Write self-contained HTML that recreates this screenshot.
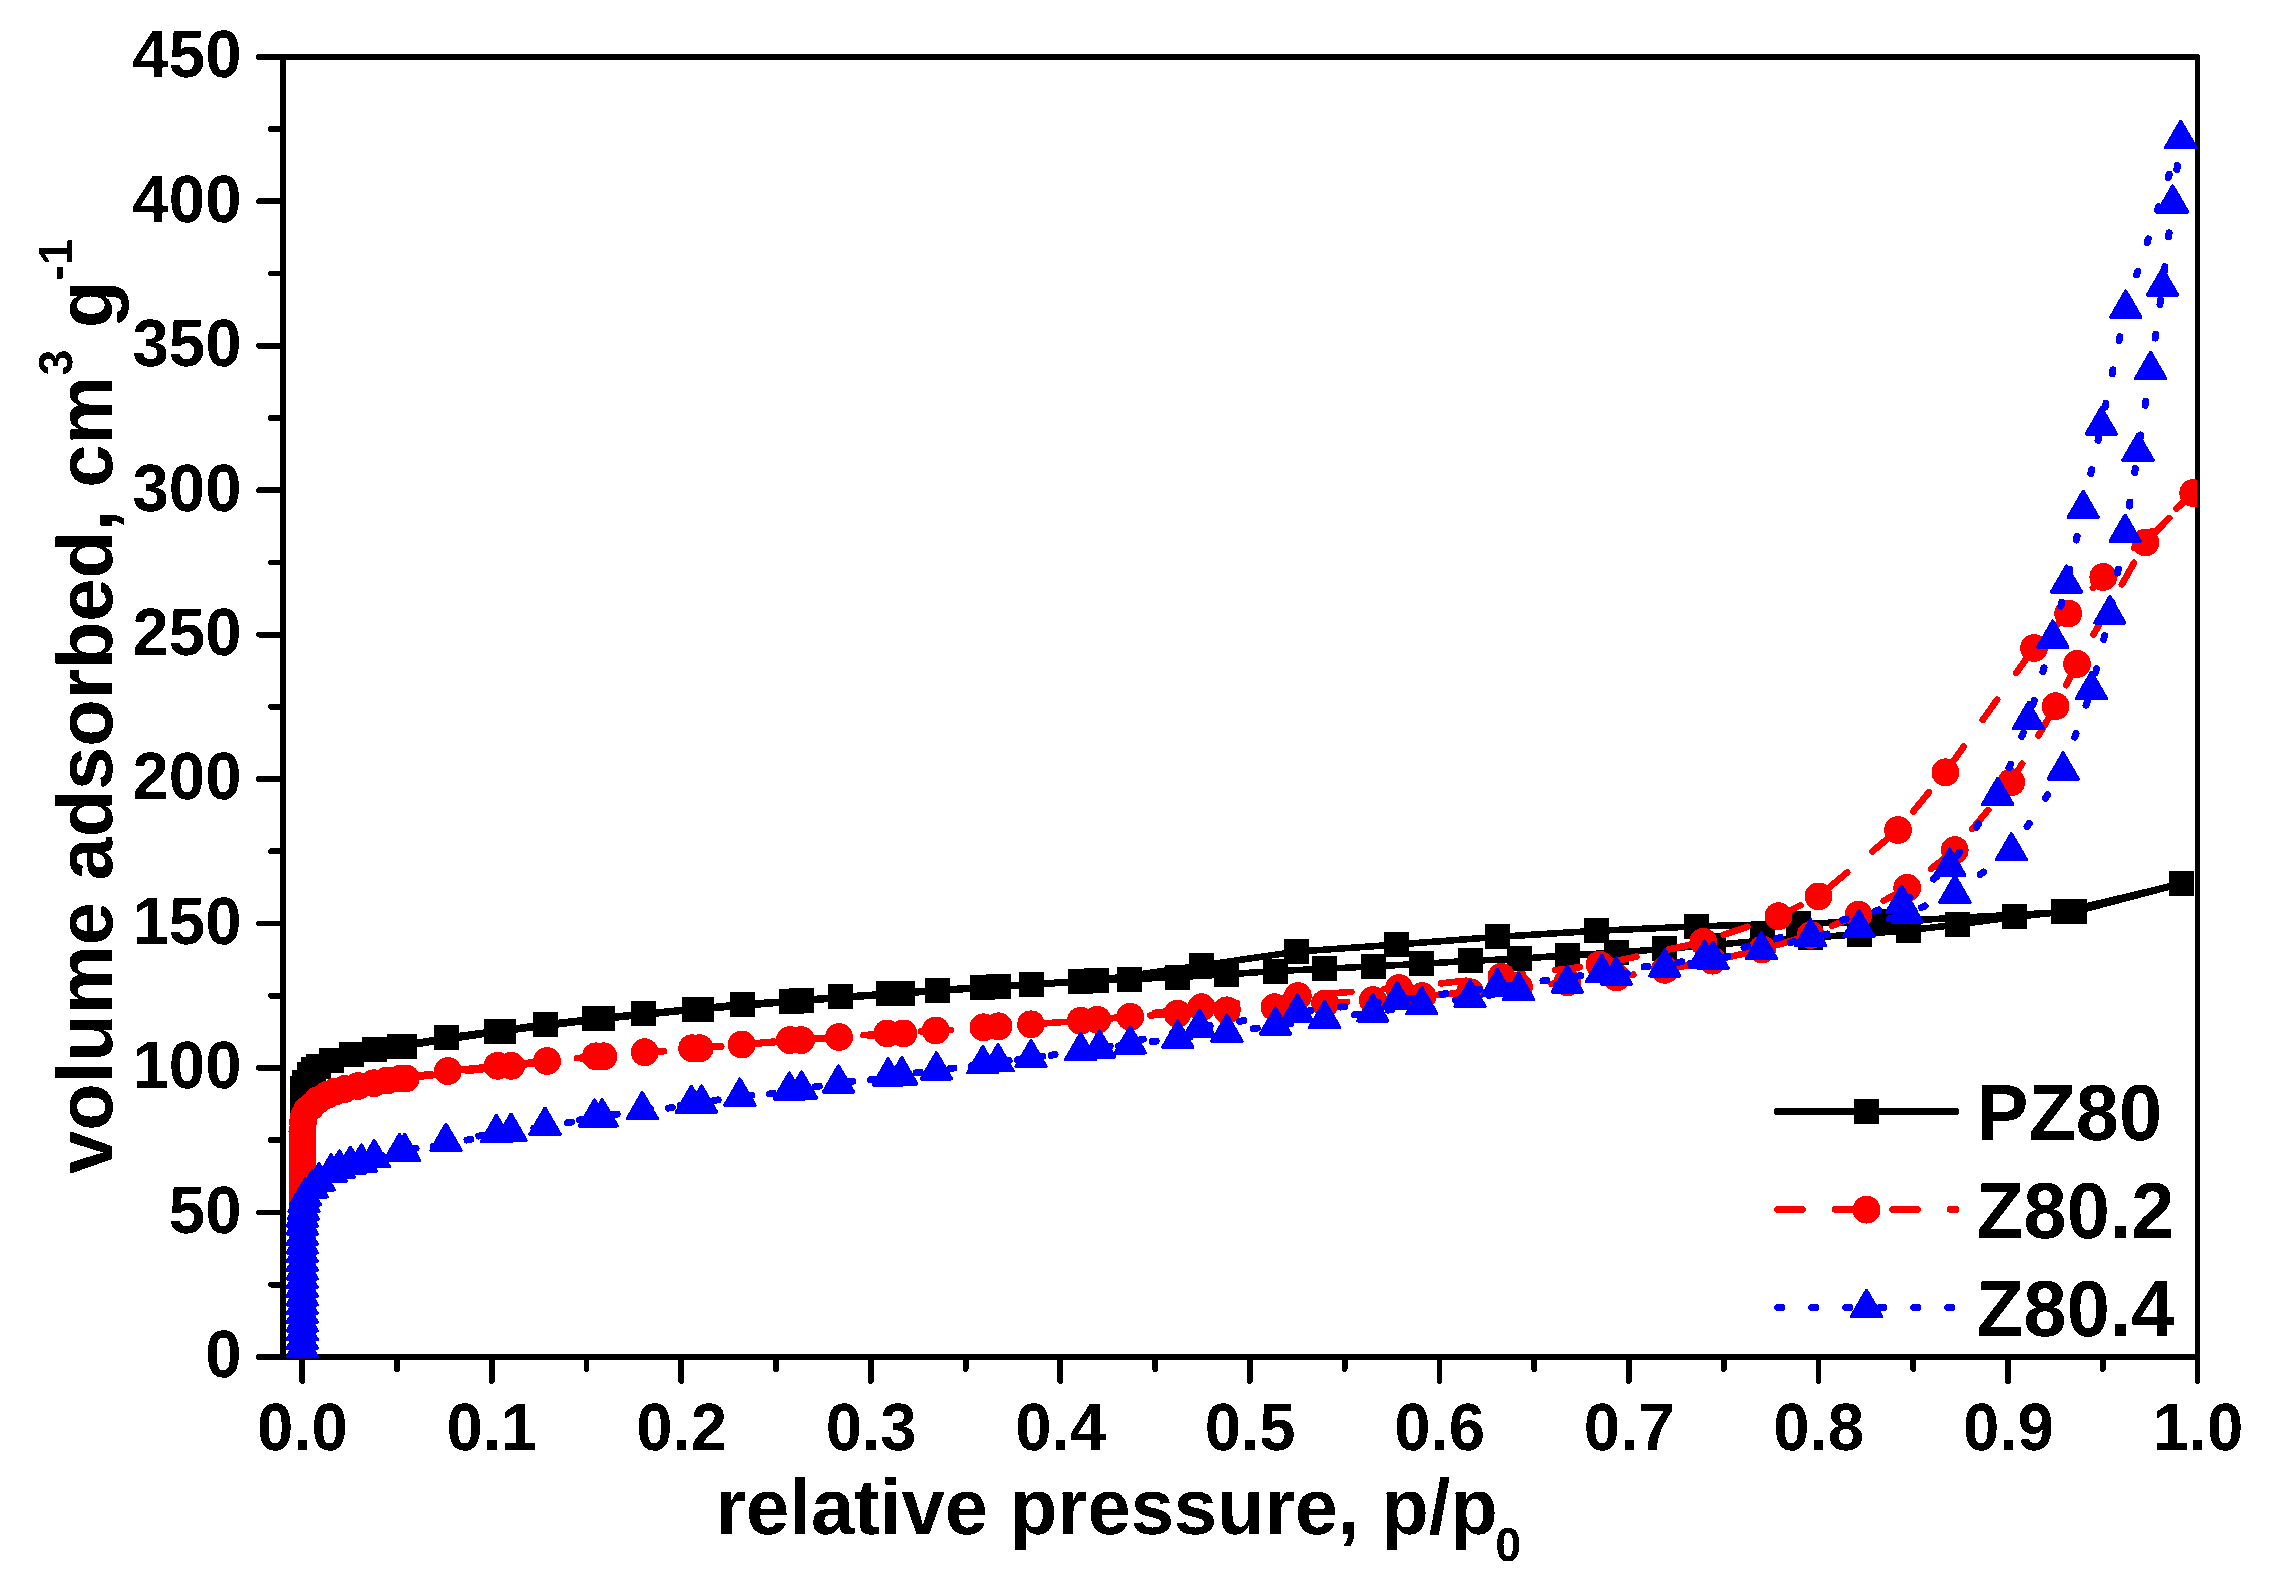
<!DOCTYPE html>
<html><head><meta charset="utf-8"><title>N2 adsorption isotherms</title>
<style>html,body{margin:0;padding:0;background:#fff}svg{display:block}</style></head>
<body>
<svg width="2270" height="1586" viewBox="0 0 2270 1586" shape-rendering="crispEdges" text-rendering="geometricPrecision">
<defs><filter id="bw" filterUnits="userSpaceOnUse" x="0" y="0" width="2270" height="1586" color-interpolation-filters="sRGB"><feComponentTransfer><feFuncA type="discrete" tableValues="0 1"/></feComponentTransfer></filter><clipPath id="fr"><rect x="283" y="57" width="1914.5" height="1301.2"/></clipPath></defs>
<rect width="2270" height="1586" fill="#fff"/>
<g stroke="#000" stroke-width="5.8" stroke-linecap="round" fill="none">
<path d="M283,57V1357 M2197.5,57V1357"/>
<path d="M259,57H2197.5 M259,1357H2197.5"/>
<path d="M271,1284.6H283M259,1212.4H283M271,1140.1H283M259,1067.9H283M271,995.7H283M259,923.5H283M271,851.3H283M259,779.1H283M271,706.8H283M259,634.6H283M271,562.4H283M259,490.2H283M271,418H283M259,345.8H283M271,273.5H283M259,201.3H283M271,129.1H283M302.2,1357V1381M397,1357V1369M491.7,1357V1381M586.5,1357V1369M681.3,1357V1381M776,1357V1369M870.8,1357V1381M965.6,1357V1369M1060.3,1357V1381M1155.1,1357V1369M1249.8,1357V1381M1344.6,1357V1369M1439.4,1357V1381M1534.1,1357V1369M1628.9,1357V1381M1723.7,1357V1369M1818.4,1357V1381M1913.2,1357V1369M2008,1357V1381M2102.7,1357V1369M2197.5,1357V1381"/>
</g>
<g clip-path="url(#fr)">
<polyline points="302.2,1348.3 302.2,1339.6 302.2,1331 302.2,1322.3 302.2,1313.6 302.2,1304.9 302.2,1296.3 302.2,1287.6 302.2,1278.9 302.2,1270.3 302.2,1261.6 302.2,1252.9 302.2,1244.3 302.2,1235.6 302.2,1226.9 302.2,1218.2 302.2,1209.6 302.2,1200.9 302.2,1192.2 302.2,1183.6 302.2,1174.9 302.2,1166.2 302.2,1157.6 302.2,1148.9 302.2,1140.2 302.2,1131.5 302.2,1122.9 302.2,1114.2 302.2,1105.5 302.2,1096.9 302.8,1088 304.7,1082 309.8,1074.9 313.8,1069.9 318.9,1066.4 331.1,1060.7 351.3,1054.7 374.6,1049.6 399,1046.2 446.2,1037.7 496.4,1031 545.4,1024.3 594.7,1018.8 643.7,1013.7 694,1009 742.9,1004.2 791.7,1001 840,996.9 888.6,993.7 937.8,990 982.8,987.2 1031,984.4 1080.7,981 1129.3,979.3 1177.8,977 1226.9,974.4 1275.5,971 1324.1,968.9 1373.4,966.3 1421.4,963.9 1470.4,960.8 1519.7,958.8 1567.9,955.2 1616.6,952.8 1664.8,948.7 1713.5,945 1762.1,940.6 1810.7,937.6 1859.4,934.2 1908.4,930.3 1957.2,924.6 2014.5,916.9 2063.9,911.7 2181.7,883.5 2074.5,911.7 1884.5,921.7 1798.5,923.4 1696.7,926.4 1596.3,930.8 1497,936.9 1396.1,944.6 1296.4,951.7 1201.5,965.5 1096.5,980.5 998.6,986.8 902.4,993.3 801.3,1000.9 701.5,1009 602.6,1018.8 503.3,1031 404,1046" fill="none" stroke="#000" stroke-width="6.6" stroke-linejoin="round"/>
<g fill="#000"><rect x="289.7" y="1335.8" width="25" height="25"/><rect x="289.7" y="1327.1" width="25" height="25"/><rect x="289.7" y="1318.5" width="25" height="25"/><rect x="289.7" y="1309.8" width="25" height="25"/><rect x="289.7" y="1301.1" width="25" height="25"/><rect x="289.7" y="1292.4" width="25" height="25"/><rect x="289.7" y="1283.8" width="25" height="25"/><rect x="289.7" y="1275.1" width="25" height="25"/><rect x="289.7" y="1266.4" width="25" height="25"/><rect x="289.7" y="1257.8" width="25" height="25"/><rect x="289.7" y="1249.1" width="25" height="25"/><rect x="289.7" y="1240.4" width="25" height="25"/><rect x="289.7" y="1231.8" width="25" height="25"/><rect x="289.7" y="1223.1" width="25" height="25"/><rect x="289.7" y="1214.4" width="25" height="25"/><rect x="289.7" y="1205.7" width="25" height="25"/><rect x="289.7" y="1197.1" width="25" height="25"/><rect x="289.7" y="1188.4" width="25" height="25"/><rect x="289.7" y="1179.7" width="25" height="25"/><rect x="289.7" y="1171.1" width="25" height="25"/><rect x="289.7" y="1162.4" width="25" height="25"/><rect x="289.7" y="1153.7" width="25" height="25"/><rect x="289.7" y="1145.1" width="25" height="25"/><rect x="289.7" y="1136.4" width="25" height="25"/><rect x="289.7" y="1127.7" width="25" height="25"/><rect x="289.7" y="1119" width="25" height="25"/><rect x="289.7" y="1110.4" width="25" height="25"/><rect x="289.7" y="1101.7" width="25" height="25"/><rect x="289.7" y="1093" width="25" height="25"/><rect x="289.7" y="1084.4" width="25" height="25"/><rect x="290.3" y="1075.5" width="25" height="25"/><rect x="292.2" y="1069.5" width="25" height="25"/><rect x="297.3" y="1062.4" width="25" height="25"/><rect x="301.3" y="1057.4" width="25" height="25"/><rect x="306.4" y="1053.9" width="25" height="25"/><rect x="318.6" y="1048.2" width="25" height="25"/><rect x="338.8" y="1042.2" width="25" height="25"/><rect x="362.1" y="1037.1" width="25" height="25"/><rect x="386.5" y="1033.7" width="25" height="25"/><rect x="433.7" y="1025.2" width="25" height="25"/><rect x="483.9" y="1018.5" width="25" height="25"/><rect x="532.9" y="1011.8" width="25" height="25"/><rect x="582.2" y="1006.3" width="25" height="25"/><rect x="631.2" y="1001.2" width="25" height="25"/><rect x="681.5" y="996.5" width="25" height="25"/><rect x="730.4" y="991.7" width="25" height="25"/><rect x="779.2" y="988.5" width="25" height="25"/><rect x="827.5" y="984.4" width="25" height="25"/><rect x="876.1" y="981.2" width="25" height="25"/><rect x="925.3" y="977.5" width="25" height="25"/><rect x="970.3" y="974.7" width="25" height="25"/><rect x="1018.5" y="971.9" width="25" height="25"/><rect x="1068.2" y="968.5" width="25" height="25"/><rect x="1116.8" y="966.8" width="25" height="25"/><rect x="1165.3" y="964.5" width="25" height="25"/><rect x="1214.4" y="961.9" width="25" height="25"/><rect x="1263" y="958.5" width="25" height="25"/><rect x="1311.6" y="956.4" width="25" height="25"/><rect x="1360.9" y="953.8" width="25" height="25"/><rect x="1408.9" y="951.4" width="25" height="25"/><rect x="1457.9" y="948.3" width="25" height="25"/><rect x="1507.2" y="946.3" width="25" height="25"/><rect x="1555.4" y="942.7" width="25" height="25"/><rect x="1604.1" y="940.3" width="25" height="25"/><rect x="1652.3" y="936.2" width="25" height="25"/><rect x="1701" y="932.5" width="25" height="25"/><rect x="1749.6" y="928.1" width="25" height="25"/><rect x="1798.2" y="925.1" width="25" height="25"/><rect x="1846.9" y="921.7" width="25" height="25"/><rect x="1895.9" y="917.8" width="25" height="25"/><rect x="1944.7" y="912.1" width="25" height="25"/><rect x="2002" y="904.4" width="25" height="25"/><rect x="2051.4" y="899.2" width="25" height="25"/><rect x="2169.2" y="871" width="25" height="25"/><rect x="2062" y="899.2" width="25" height="25"/><rect x="1872" y="909.2" width="25" height="25"/><rect x="1786" y="910.9" width="25" height="25"/><rect x="1684.2" y="913.9" width="25" height="25"/><rect x="1583.8" y="918.3" width="25" height="25"/><rect x="1484.5" y="924.4" width="25" height="25"/><rect x="1383.6" y="932.1" width="25" height="25"/><rect x="1283.9" y="939.2" width="25" height="25"/><rect x="1189" y="953" width="25" height="25"/><rect x="1084" y="968" width="25" height="25"/><rect x="986.1" y="974.3" width="25" height="25"/><rect x="889.9" y="980.8" width="25" height="25"/><rect x="788.8" y="988.4" width="25" height="25"/><rect x="689" y="996.5" width="25" height="25"/><rect x="590.1" y="1006.3" width="25" height="25"/><rect x="490.8" y="1018.5" width="25" height="25"/><rect x="391.5" y="1033.5" width="25" height="25"/></g>
<polyline points="302.4,1348.3 302.4,1339.6 302.4,1331 302.4,1322.3 302.4,1313.6 302.4,1304.9 302.4,1296.3 302.4,1287.6 302.4,1278.9 302.4,1270.3 302.4,1261.6 302.4,1252.9 302.4,1244.3 302.4,1235.6 302.4,1226.9 302.4,1218.2 302.4,1209.6 302.4,1200.9 302.4,1192.2 302.4,1183.6 302.4,1174.9 302.4,1166.2 302.4,1157.6 302.4,1148.9 302.4,1140.2 302.4,1131.5 303,1122 304,1116 307,1110 311,1106.7 318,1100 326.8,1095 335,1091.5 344.8,1088.9 358,1086 373.9,1083.2 387,1080.5 400.4,1078.6 447.8,1071.1 497.6,1065.8 547.1,1061 595.9,1056.3 644.7,1052.2 692.2,1048.2 741.7,1044.5 789.9,1040.1 839.1,1037 887.2,1033.4 935.8,1030.4 983.4,1027.3 1031,1024.3 1080.7,1020.8 1130.3,1016.8 1177.5,1013.6 1226.9,1010.3 1274.5,1007.2 1325.1,1003.4 1372.8,1000.1 1422.4,996.1 1470,992.2 1519,987.2 1567.3,982.3 1616.6,977.3 1664.8,969.8 1712.5,960.7 1762.1,949.5 1810.7,935 1858.5,914.6 1907.2,887.8 1954.7,850.1 2011.3,782.2 2055.6,706.2 2077,663.9 2145.5,542.5 2193.2,493.1 2103.3,577 2068.2,613.5 2034,648 1945.4,772.3 1898,830 1818.5,896.4 1778.4,916.2 1703.3,941.8 1599.7,964.7 1501.4,976.8 1399.1,988 1297.8,996.1 1201.5,1007.2 1097.3,1019.8 998.6,1026.3 903.4,1033.4 801.1,1040.1 699.7,1048.2 603.4,1056.3 511.2,1065.8 405.8,1078.4" fill="none" stroke="#f00" stroke-width="6.6" stroke-linecap="round" stroke-linejoin="round" stroke-dasharray="24.8 32.7"/>
<g fill="#f00"><circle cx="302.4" cy="1348.3" r="13.9"/><circle cx="302.4" cy="1339.6" r="13.9"/><circle cx="302.4" cy="1331" r="13.9"/><circle cx="302.4" cy="1322.3" r="13.9"/><circle cx="302.4" cy="1313.6" r="13.9"/><circle cx="302.4" cy="1304.9" r="13.9"/><circle cx="302.4" cy="1296.3" r="13.9"/><circle cx="302.4" cy="1287.6" r="13.9"/><circle cx="302.4" cy="1278.9" r="13.9"/><circle cx="302.4" cy="1270.3" r="13.9"/><circle cx="302.4" cy="1261.6" r="13.9"/><circle cx="302.4" cy="1252.9" r="13.9"/><circle cx="302.4" cy="1244.3" r="13.9"/><circle cx="302.4" cy="1235.6" r="13.9"/><circle cx="302.4" cy="1226.9" r="13.9"/><circle cx="302.4" cy="1218.2" r="13.9"/><circle cx="302.4" cy="1209.6" r="13.9"/><circle cx="302.4" cy="1200.9" r="13.9"/><circle cx="302.4" cy="1192.2" r="13.9"/><circle cx="302.4" cy="1183.6" r="13.9"/><circle cx="302.4" cy="1174.9" r="13.9"/><circle cx="302.4" cy="1166.2" r="13.9"/><circle cx="302.4" cy="1157.6" r="13.9"/><circle cx="302.4" cy="1148.9" r="13.9"/><circle cx="302.4" cy="1140.2" r="13.9"/><circle cx="302.4" cy="1131.5" r="13.9"/><circle cx="303" cy="1122" r="13.9"/><circle cx="304" cy="1116" r="13.9"/><circle cx="307" cy="1110" r="13.9"/><circle cx="311" cy="1106.7" r="13.9"/><circle cx="318" cy="1100" r="13.9"/><circle cx="326.8" cy="1095" r="13.9"/><circle cx="335" cy="1091.5" r="13.9"/><circle cx="344.8" cy="1088.9" r="13.9"/><circle cx="358" cy="1086" r="13.9"/><circle cx="373.9" cy="1083.2" r="13.9"/><circle cx="387" cy="1080.5" r="13.9"/><circle cx="400.4" cy="1078.6" r="13.9"/><circle cx="447.8" cy="1071.1" r="13.9"/><circle cx="497.6" cy="1065.8" r="13.9"/><circle cx="547.1" cy="1061" r="13.9"/><circle cx="595.9" cy="1056.3" r="13.9"/><circle cx="644.7" cy="1052.2" r="13.9"/><circle cx="692.2" cy="1048.2" r="13.9"/><circle cx="741.7" cy="1044.5" r="13.9"/><circle cx="789.9" cy="1040.1" r="13.9"/><circle cx="839.1" cy="1037" r="13.9"/><circle cx="887.2" cy="1033.4" r="13.9"/><circle cx="935.8" cy="1030.4" r="13.9"/><circle cx="983.4" cy="1027.3" r="13.9"/><circle cx="1031" cy="1024.3" r="13.9"/><circle cx="1080.7" cy="1020.8" r="13.9"/><circle cx="1130.3" cy="1016.8" r="13.9"/><circle cx="1177.5" cy="1013.6" r="13.9"/><circle cx="1226.9" cy="1010.3" r="13.9"/><circle cx="1274.5" cy="1007.2" r="13.9"/><circle cx="1325.1" cy="1003.4" r="13.9"/><circle cx="1372.8" cy="1000.1" r="13.9"/><circle cx="1422.4" cy="996.1" r="13.9"/><circle cx="1470" cy="992.2" r="13.9"/><circle cx="1519" cy="987.2" r="13.9"/><circle cx="1567.3" cy="982.3" r="13.9"/><circle cx="1616.6" cy="977.3" r="13.9"/><circle cx="1664.8" cy="969.8" r="13.9"/><circle cx="1712.5" cy="960.7" r="13.9"/><circle cx="1762.1" cy="949.5" r="13.9"/><circle cx="1810.7" cy="935" r="13.9"/><circle cx="1858.5" cy="914.6" r="13.9"/><circle cx="1907.2" cy="887.8" r="13.9"/><circle cx="1954.7" cy="850.1" r="13.9"/><circle cx="2011.3" cy="782.2" r="13.9"/><circle cx="2055.6" cy="706.2" r="13.9"/><circle cx="2077" cy="663.9" r="13.9"/><circle cx="2145.5" cy="542.5" r="13.9"/><circle cx="2193.2" cy="493.1" r="13.9"/><circle cx="2103.3" cy="577" r="13.9"/><circle cx="2068.2" cy="613.5" r="13.9"/><circle cx="2034" cy="648" r="13.9"/><circle cx="1945.4" cy="772.3" r="13.9"/><circle cx="1898" cy="830" r="13.9"/><circle cx="1818.5" cy="896.4" r="13.9"/><circle cx="1778.4" cy="916.2" r="13.9"/><circle cx="1703.3" cy="941.8" r="13.9"/><circle cx="1599.7" cy="964.7" r="13.9"/><circle cx="1501.4" cy="976.8" r="13.9"/><circle cx="1399.1" cy="988" r="13.9"/><circle cx="1297.8" cy="996.1" r="13.9"/><circle cx="1201.5" cy="1007.2" r="13.9"/><circle cx="1097.3" cy="1019.8" r="13.9"/><circle cx="998.6" cy="1026.3" r="13.9"/><circle cx="903.4" cy="1033.4" r="13.9"/><circle cx="801.1" cy="1040.1" r="13.9"/><circle cx="699.7" cy="1048.2" r="13.9"/><circle cx="603.4" cy="1056.3" r="13.9"/><circle cx="511.2" cy="1065.8" r="13.9"/><circle cx="405.8" cy="1078.4" r="13.9"/></g>
<polyline points="302.2,1348.3 302.2,1339.6 302.2,1331 302.2,1322.3 302.2,1313.6 302.2,1304.9 302.2,1296.3 302.2,1287.6 302.2,1278.9 302.2,1270.3 302.2,1261.6 302.2,1252.9 302.2,1244.3 302.2,1235.6 302.3,1225.4 302.3,1217.5 303.2,1210.4 304.1,1202.9 305.4,1196.3 312.3,1188.3 319.1,1181.3 331,1172.5 339.4,1168.5 350.4,1164.8 361.4,1162.5 374.2,1158 399.5,1152 446,1141.8 496.4,1133 545,1125.6 594.5,1117.5 642.3,1110.2 691.3,1103.9 739.9,1096.6 789.3,1090.5 838.5,1083.4 888.2,1076.3 936.4,1070.3 982.8,1064.2 1031,1058.1 1080.7,1051 1130.3,1044.3 1177.8,1038.6 1226.9,1032.6 1275.5,1025.5 1324.7,1019 1372.8,1012.3 1421.8,1005.2 1470,998.1 1518.7,991 1567.3,983.5 1616.2,975.5 1664.8,967.4 1713.1,959.7 1761.5,950.1 1810.7,937.2 1858.9,928 1907,913.5 1954.9,893.5 2011.4,851.2 2063.1,770.5 2091.4,689.9 2109.8,614.3 2125.1,532.6 2138,451.6 2150.6,369.9 2162.5,286.5 2172.7,203.5 2180.7,138.8 2125.8,308.6 2101.3,425.4 2083.2,508.8 2066.5,583.5 2052.8,638.5 2028.4,720.1 1997.7,795.8 1949.8,866.6 1901.7,903.6 1704.4,958.6 1601.7,972.8 1497.4,987 1397.1,1000.1 1297.4,1012.3 1199.5,1027.5 1099.5,1048.4 998,1062.2 901.8,1075.3 801.5,1089.5 701.5,1103.5 602.2,1117.3 511,1131.7 404.6,1151.8" fill="none" stroke="#00f" stroke-width="7.0" stroke-linecap="round" stroke-linejoin="round" stroke-dasharray="4 30"/>
<path fill="#00f" stroke="#00f" stroke-width="3.4" stroke-linejoin="round" d="M302.2,1330.9l14.95,25.9h-29.9zM302.2,1322.2l14.95,25.9h-29.9zM302.2,1313.6l14.95,25.9h-29.9zM302.2,1304.9l14.95,25.9h-29.9zM302.2,1296.2l14.95,25.9h-29.9zM302.2,1287.5l14.95,25.9h-29.9zM302.2,1278.9l14.95,25.9h-29.9zM302.2,1270.2l14.95,25.9h-29.9zM302.2,1261.5l14.95,25.9h-29.9zM302.2,1252.9l14.95,25.9h-29.9zM302.2,1244.2l14.95,25.9h-29.9zM302.2,1235.5l14.95,25.9h-29.9zM302.2,1226.9l14.95,25.9h-29.9zM302.2,1218.2l14.95,25.9h-29.9zM302.3,1208l14.95,25.9h-29.9zM302.3,1200.1l14.95,25.9h-29.9zM303.2,1193l14.95,25.9h-29.9zM304.1,1185.5l14.95,25.9h-29.9zM305.4,1178.9l14.95,25.9h-29.9zM312.3,1170.9l14.95,25.9h-29.9zM319.1,1163.9l14.95,25.9h-29.9zM331,1155.1l14.95,25.9h-29.9zM339.4,1151.1l14.95,25.9h-29.9zM350.4,1147.4l14.95,25.9h-29.9zM361.4,1145.1l14.95,25.9h-29.9zM374.2,1140.6l14.95,25.9h-29.9zM399.5,1134.6l14.95,25.9h-29.9zM446,1124.4l14.95,25.9h-29.9zM496.4,1115.6l14.95,25.9h-29.9zM545,1108.2l14.95,25.9h-29.9zM594.5,1100.1l14.95,25.9h-29.9zM642.3,1092.8l14.95,25.9h-29.9zM691.3,1086.5l14.95,25.9h-29.9zM739.9,1079.2l14.95,25.9h-29.9zM789.3,1073.1l14.95,25.9h-29.9zM838.5,1066l14.95,25.9h-29.9zM888.2,1058.9l14.95,25.9h-29.9zM936.4,1052.9l14.95,25.9h-29.9zM982.8,1046.8l14.95,25.9h-29.9zM1031,1040.7l14.95,25.9h-29.9zM1080.7,1033.6l14.95,25.9h-29.9zM1130.3,1026.9l14.95,25.9h-29.9zM1177.8,1021.2l14.95,25.9h-29.9zM1226.9,1015.2l14.95,25.9h-29.9zM1275.5,1008.1l14.95,25.9h-29.9zM1324.7,1001.6l14.95,25.9h-29.9zM1372.8,994.9l14.95,25.9h-29.9zM1421.8,987.8l14.95,25.9h-29.9zM1470,980.7l14.95,25.9h-29.9zM1518.7,973.6l14.95,25.9h-29.9zM1567.3,966.1l14.95,25.9h-29.9zM1616.2,958.1l14.95,25.9h-29.9zM1664.8,950l14.95,25.9h-29.9zM1713.1,942.3l14.95,25.9h-29.9zM1761.5,932.7l14.95,25.9h-29.9zM1810.7,919.8l14.95,25.9h-29.9zM1858.9,910.6l14.95,25.9h-29.9zM1907,896.1l14.95,25.9h-29.9zM1954.9,876.1l14.95,25.9h-29.9zM2011.4,833.8l14.95,25.9h-29.9zM2063.1,753.1l14.95,25.9h-29.9zM2091.4,672.5l14.95,25.9h-29.9zM2109.8,596.9l14.95,25.9h-29.9zM2125.1,515.2l14.95,25.9h-29.9zM2138,434.2l14.95,25.9h-29.9zM2150.6,352.5l14.95,25.9h-29.9zM2162.5,269.1l14.95,25.9h-29.9zM2172.7,186.1l14.95,25.9h-29.9zM2180.7,121.4l14.95,25.9h-29.9zM2125.8,291.2l14.95,25.9h-29.9zM2101.3,408l14.95,25.9h-29.9zM2083.2,491.4l14.95,25.9h-29.9zM2066.5,566.1l14.95,25.9h-29.9zM2052.8,621.1l14.95,25.9h-29.9zM2028.4,702.7l14.95,25.9h-29.9zM1997.7,778.4l14.95,25.9h-29.9zM1949.8,849.2l14.95,25.9h-29.9zM1901.7,886.2l14.95,25.9h-29.9zM1704.4,941.2l14.95,25.9h-29.9zM1601.7,955.4l14.95,25.9h-29.9zM1497.4,969.6l14.95,25.9h-29.9zM1397.1,982.7l14.95,25.9h-29.9zM1297.4,994.9l14.95,25.9h-29.9zM1199.5,1010.1l14.95,25.9h-29.9zM1099.5,1031l14.95,25.9h-29.9zM998,1044.8l14.95,25.9h-29.9zM901.8,1057.9l14.95,25.9h-29.9zM801.5,1072.1l14.95,25.9h-29.9zM701.5,1086.1l14.95,25.9h-29.9zM602.2,1099.9l14.95,25.9h-29.9zM511,1114.3l14.95,25.9h-29.9zM404.6,1134.4l14.95,25.9h-29.9z"/>
</g>
<path d="M1777,1111.5H1956" stroke="#000" stroke-width="6.6" stroke-linecap="round" fill="none"/>
<rect x="1853.9" y="1098.9" width="25" height="25" fill="#000"/>
<path d="M1777.6,1209.5H1956" stroke="#f00" stroke-width="6.6" stroke-linecap="round" stroke-dasharray="24.8 32.7" fill="none"/>
<circle cx="1866.5" cy="1209.7" r="13.9" fill="#f00"/>
<path d="M1777.6,1307.5H1956" stroke="#00f" stroke-width="7" stroke-linecap="round" stroke-dasharray="4 30" fill="none"/>
<path fill="#00f" stroke="#00f" stroke-width="3.4" stroke-linejoin="round" d="M1866.5,1290.5l14.95,25.9h-29.9z"/>
<g font-family="'Liberation Sans', Arial, sans-serif" font-weight="bold" fill="#000" filter="url(#bw)">
<text transform="translate(241.5,1377.1) scale(0.975,1)" font-size="67" text-anchor="end">0</text>
<text transform="translate(241.5,1232.7) scale(0.975,1)" font-size="67" text-anchor="end">50</text>
<text transform="translate(241.5,1088.2) scale(0.975,1)" font-size="67" text-anchor="end">100</text>
<text transform="translate(241.5,943.8) scale(0.975,1)" font-size="67" text-anchor="end">150</text>
<text transform="translate(241.5,799.4) scale(0.975,1)" font-size="67" text-anchor="end">200</text>
<text transform="translate(241.5,654.9) scale(0.975,1)" font-size="67" text-anchor="end">250</text>
<text transform="translate(241.5,510.5) scale(0.975,1)" font-size="67" text-anchor="end">300</text>
<text transform="translate(241.5,366.1) scale(0.975,1)" font-size="67" text-anchor="end">350</text>
<text transform="translate(241.5,221.6) scale(0.975,1)" font-size="67" text-anchor="end">400</text>
<text transform="translate(241.5,77.2) scale(0.975,1)" font-size="67" text-anchor="end">450</text>
<text transform="translate(302.5,1450) scale(0.975,1)" font-size="67" text-anchor="middle">0.0</text>
<text transform="translate(492,1450) scale(0.975,1)" font-size="67" text-anchor="middle">0.1</text>
<text transform="translate(681.6,1450) scale(0.975,1)" font-size="67" text-anchor="middle">0.2</text>
<text transform="translate(871.1,1450) scale(0.975,1)" font-size="67" text-anchor="middle">0.3</text>
<text transform="translate(1060.6,1450) scale(0.975,1)" font-size="67" text-anchor="middle">0.4</text>
<text transform="translate(1250.1,1450) scale(0.975,1)" font-size="67" text-anchor="middle">0.5</text>
<text transform="translate(1439.7,1450) scale(0.975,1)" font-size="67" text-anchor="middle">0.6</text>
<text transform="translate(1629.2,1450) scale(0.975,1)" font-size="67" text-anchor="middle">0.7</text>
<text transform="translate(1818.7,1450) scale(0.975,1)" font-size="67" text-anchor="middle">0.8</text>
<text transform="translate(2008.3,1450) scale(0.975,1)" font-size="67" text-anchor="middle">0.9</text>
<text transform="translate(2197.8,1450) scale(0.975,1)" font-size="67" text-anchor="middle">1.0</text>
<text transform="translate(715.8,1534.3) scale(0.984,1)" font-size="79" text-anchor="start">relative pressure, p/p<tspan font-size="47.5" dy="27" dx="-2.5">0</tspan></text>
<text transform="translate(112.2,1174) rotate(-90) scale(0.983,1)" font-size="79" text-anchor="start">volume adsorbed, cm<tspan font-size="47.5" dy="-40">3</tspan><tspan dy="40"> g</tspan><tspan font-size="47.5" dy="-40">-1</tspan></text>
<text transform="translate(1976.8,1140) scale(0.975,1)" font-size="79.5" text-anchor="start">PZ80</text>
<text transform="translate(1976.2,1238) scale(0.975,1)" font-size="79.5" text-anchor="start">Z80.2</text>
<text transform="translate(1976.2,1336) scale(0.975,1)" font-size="79.5" text-anchor="start">Z80.4</text>
</g>
</svg>
</body></html>
